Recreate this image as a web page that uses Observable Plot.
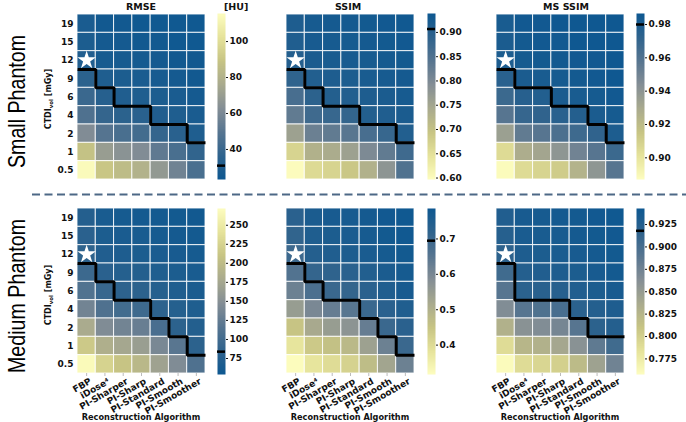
<!DOCTYPE html>
<html><head><meta charset="utf-8">
<script src="https://cdn.jsdelivr.net/npm/d3@7"></script>
<script src="https://cdn.jsdelivr.net/npm/@observablehq/plot@0.6"></script>
<style>
body{margin:0;background:#fff;}
#fig{position:relative;width:686px;height:422px;overflow:hidden;}
#fig > svg{position:absolute;}
</style></head><body><div id="fig"></div>
<script>
// ---------- data ----------
const algorithms = ["FBP", "iDose\u2074", "PI-Sharper", "PI-Sharp", "PI-Standard", "PI-Smooth", "PI-Smoother"];
const doses = ["19", "15", "12", "9", "6", "4", "2", "1", "0.5"];
const refAlgorithm = "FBP";
const refDose = "12";

// rows: doses (top to bottom), columns: algorithms
const smallRMSE = [
  [28, 25, 25, 24, 24, 24, 24],
  [29, 26, 26, 25, 25, 24, 24],
  [31, 27, 27, 26, 26, 25, 25],
  [35, 30, 29, 28, 27, 26, 25],
  [40, 33, 30.5, 30, 29, 28, 26],
  [47, 38, 35, 34, 31, 30, 28],
  [62, 49, 45, 43, 38, 34, 30],
  [88, 70, 65, 62, 52, 45, 37],
  [114, 90, 85, 80, 68, 57, 45]
];
const smallSSIM = [
  [0.915, 0.926, 0.928, 0.929, 0.931, 0.933, 0.935],
  [0.912, 0.924, 0.926, 0.927, 0.929, 0.931, 0.933],
  [0.907, 0.920, 0.922, 0.924, 0.926, 0.929, 0.931],
  [0.890, 0.910, 0.915, 0.918, 0.922, 0.925, 0.928],
  [0.860, 0.895, 0.908, 0.910, 0.915, 0.920, 0.925],
  [0.830, 0.870, 0.880, 0.885, 0.908, 0.912, 0.920],
  [0.760, 0.820, 0.830, 0.840, 0.860, 0.880, 0.910],
  [0.670, 0.730, 0.740, 0.760, 0.800, 0.830, 0.870],
  [0.600, 0.660, 0.670, 0.690, 0.730, 0.780, 0.850]
];
const smallMSSSIM = [
  [0.982, 0.985, 0.985, 0.986, 0.986, 0.986, 0.986],
  [0.981, 0.984, 0.985, 0.985, 0.986, 0.986, 0.986],
  [0.980, 0.983, 0.984, 0.984, 0.985, 0.985, 0.986],
  [0.975, 0.981, 0.982, 0.983, 0.984, 0.985, 0.986],
  [0.968, 0.976, 0.978, 0.981, 0.982, 0.983, 0.985],
  [0.958, 0.970, 0.972, 0.975, 0.977, 0.981, 0.983],
  [0.935, 0.955, 0.958, 0.962, 0.967, 0.972, 0.980],
  [0.905, 0.928, 0.932, 0.940, 0.950, 0.958, 0.968],
  [0.888, 0.905, 0.908, 0.912, 0.925, 0.940, 0.958]
];
const mediumRMSE = [
  [75, 64, 62, 61, 60, 59, 58],
  [80, 67, 65, 64, 62, 61, 60],
  [84, 72, 69, 67, 65, 63, 62],
  [95, 80, 76, 74, 70, 67, 64],
  [112, 92, 83, 82, 76, 71, 66],
  [135, 110, 100, 97, 83, 76, 70],
  [180, 145, 135, 128, 105, 82, 74],
  [215, 185, 175, 165, 140, 118, 82],
  [268, 225, 210, 195, 170, 145, 110]
];
const mediumSSIM = [
  [0.730, 0.760, 0.765, 0.768, 0.772, 0.778, 0.782],
  [0.715, 0.752, 0.758, 0.762, 0.768, 0.775, 0.780],
  [0.695, 0.742, 0.750, 0.755, 0.762, 0.770, 0.776],
  [0.660, 0.710, 0.720, 0.730, 0.745, 0.760, 0.770],
  [0.620, 0.670, 0.700, 0.710, 0.730, 0.750, 0.765],
  [0.550, 0.600, 0.630, 0.650, 0.700, 0.730, 0.750],
  [0.450, 0.520, 0.550, 0.570, 0.630, 0.700, 0.730],
  [0.380, 0.440, 0.460, 0.480, 0.540, 0.620, 0.700],
  [0.320, 0.380, 0.400, 0.420, 0.470, 0.530, 0.620]
];
const mediumMSSSIM = [
  [0.928, 0.935, 0.936, 0.937, 0.938, 0.940, 0.941],
  [0.924, 0.933, 0.934, 0.935, 0.937, 0.939, 0.940],
  [0.918, 0.930, 0.932, 0.933, 0.935, 0.937, 0.939],
  [0.905, 0.925, 0.928, 0.930, 0.932, 0.935, 0.938],
  [0.890, 0.920, 0.921, 0.923, 0.928, 0.932, 0.935],
  [0.865, 0.890, 0.895, 0.900, 0.920, 0.925, 0.930],
  [0.830, 0.860, 0.865, 0.872, 0.890, 0.919, 0.925],
  [0.790, 0.825, 0.830, 0.840, 0.860, 0.885, 0.905],
  [0.760, 0.790, 0.795, 0.800, 0.820, 0.845, 0.875]
];

// lowest dose per algorithm still at least as good as the reference (black step line)
const smallRMSEMinDose    = ["12", "9", "6", "6", "4", "4", "2"];
const smallSSIMMinDose    = ["12", "9", "6", "6", "4", "4", "2"];
const smallMSSSIMMinDose  = ["12", "9", "9", "6", "6", "4", "2"];
const mediumRMSEMinDose   = ["12", "9", "6", "6", "4", "2", "1"];
const mediumSSIMMinDose   = ["12", "9", "6", "6", "4", "2", "1"];
const mediumMSSSIMMinDose = ["12", "6", "6", "6", "4", "2", "2"];

// reference value (black mark on colour bar)
const refValues = {smallRMSE: 31, smallSSIM: 0.907, smallMSSSIM: 0.980, mediumRMSE: 84, mediumSSIM: 0.695, mediumMSSSIM: 0.918};

// colour bar ranges and ticks
const smallRMSERange = [23.3, 115.6],   smallRMSETicks = [40, 60, 80, 100];
const smallSSIMRange = [0.597, 0.939],  smallSSIMTicks = [0.60, 0.65, 0.70, 0.75, 0.80, 0.85, 0.90];
const smallMSSSIMRange = [0.887, 0.9866], smallMSSSIMTicks = [0.90, 0.92, 0.94, 0.96, 0.98];
const mediumRMSERange = [54, 272],      mediumRMSETicks = [75, 100, 125, 150, 175, 200, 225, 250];
const mediumSSIMRange = [0.317, 0.786], mediumSSIMTicks = [0.4, 0.5, 0.6, 0.7];
const mediumMSSSIMRange = [0.7576, 0.9429], mediumMSSSIMTicks = [0.775, 0.800, 0.825, 0.850, 0.875, 0.900, 0.925];

const metricTitles = ["RMSE", "SSIM", "MS SSIM"];
const phantomLabels = ["Small Phantom", "Medium Phantom"];

// ---------- styling ----------
const cmap = d3.piecewise(d3.interpolateRgb, ["#0e5891", "#2f638d", "#577590", "#848e95", "#a9aa8e", "#c7c484", "#e6e39b", "#fdfdbf"]);
const FONT = "DejaVu Sans";
const HX = [77, 286, 496], HY = [14, 208], HW = 128, HH = 165;
const CX = [217, 427, 636], CY = [13, 207.5], CW = 8, CH = 166;

const panels = [
  {r: 0, c: 0, values: smallRMSE, minDose: smallRMSEMinDose, ref: refValues.smallRMSE, range: smallRMSERange, ticks: smallRMSETicks, fmt: d3.format("d"), higherBetter: false},
  {r: 0, c: 1, values: smallSSIM, minDose: smallSSIMMinDose, ref: refValues.smallSSIM, range: smallSSIMRange, ticks: smallSSIMTicks, fmt: d3.format(".2f"), higherBetter: true},
  {r: 0, c: 2, values: smallMSSSIM, minDose: smallMSSSIMMinDose, ref: refValues.smallMSSSIM, range: smallMSSSIMRange, ticks: smallMSSSIMTicks, fmt: d3.format(".2f"), higherBetter: true},
  {r: 1, c: 0, values: mediumRMSE, minDose: mediumRMSEMinDose, ref: refValues.mediumRMSE, range: mediumRMSERange, ticks: mediumRMSETicks, fmt: d3.format("d"), higherBetter: false},
  {r: 1, c: 1, values: mediumSSIM, minDose: mediumSSIMMinDose, ref: refValues.mediumSSIM, range: mediumSSIMRange, ticks: mediumSSIMTicks, fmt: d3.format(".1f"), higherBetter: true},
  {r: 1, c: 2, values: mediumMSSSIM, minDose: mediumMSSSIMMinDose, ref: refValues.mediumMSSSIM, range: mediumMSSSIMRange, ticks: mediumMSSSIMTicks, fmt: d3.format(".3f"), higherBetter: true}
];

const fig = document.getElementById("fig");
function place(svg, left, top) {
  svg.style.position = "absolute";
  svg.style.left = left + "px";
  svg.style.top = top + "px";
  svg.style.maxWidth = "none";
  svg.style.background = "transparent";
  fig.appendChild(svg);
}
const baseStyle = {fontFamily: FONT, fontSize: "9px", fontWeight: "bold", color: "#111", background: "transparent", overflow: "visible"};

function heatmap(p) {
  const nR = doses.length, nC = algorithms.length;
  const cells = p.values.flatMap((row, i) => row.map((v, j) => ({i, j, v})));
  const step = [];
  p.minDose.forEach((d, j) => {
    const k = doses.indexOf(d) + 1;
    step.push({x: j, y: k}, {x: j + 1, y: k});
  });
  const star = [{i: doses.indexOf(refDose), j: algorithms.indexOf(refAlgorithm)}];
  const ML = 35, MT = 2, MR = 2, MB = p.r === 1 ? 50 : 2;
  const colTicks = d3.range(nC).map(j => j + 0.5);
  const marks = [
    Plot.rect(cells, {x1: "j", x2: d => d.j + 1, y1: "i", y2: d => d.i + 1, fill: "v", stroke: "white", strokeWidth: 1, strokeOpacity: 0.85}),
    Plot.line(step, {x: "x", y: "y", stroke: "black", strokeWidth: 3, strokeLinecap: "butt", strokeLinejoin: "miter"}),
    Plot.dot(star, {x: d => d.j + 0.5, y: d => d.i + 0.5, symbol: "star", fill: "white", stroke: "none", r: 5.8})
  ];
  if (p.c === 0) marks.push(Plot.axisY({ticks: d3.range(nR).map(i => i + 0.5), tickFormat: t => doses[Math.floor(t)], tickSize: 0, tickPadding: 4, label: null, fontSize: 9}));
  if (p.r === 1) {
    marks.push(Plot.axisX({ticks: colTicks, tickSize: 3, tickFormat: () => "", label: null, stroke: "#bbb"}));
    marks.push(Plot.axisX({ticks: colTicks, tickFormat: t => algorithms[Math.floor(t)], tickSize: 0, tickPadding: 5, tickRotate: -30, label: null, fill: "#111", fontSize: 9, dx: 4, dy: 2}));
  }
  const svg = Plot.plot({
    width: ML + HW + MR, height: MT + HH + MB,
    marginLeft: ML, marginTop: MT, marginRight: MR, marginBottom: MB,
    x: {domain: [0, nC], axis: null},
    y: {domain: [0, nR], reverse: true, axis: null},
    color: {type: "linear", domain: p.range, interpolate: cmap, reverse: p.higherBetter},
    style: baseStyle,
    marks
  });
  place(svg, HX[p.c] - ML, HY[p.r] - MT);
}

function colorbar(p) {
  const MT = 4, MB = 4, MR = 40;
  const marks = [];
  if (Plot.raster) {
    marks.push(Plot.raster({x1: 0, x2: 1, y1: p.range[0], y2: p.range[1], width: 1, height: 256, fill: (x, y) => y}));
  } else {
    const n = 200;
    const slices = d3.range(n).map(k => p.range[0] + (p.range[1] - p.range[0]) * k / n);
    marks.push(Plot.rect(slices, {x1: 0, x2: 1, y1: d => d, y2: d => d + (p.range[1] - p.range[0]) / n, fill: d => d}));
  }
  marks.push(Plot.ruleY([p.ref], {stroke: "black", strokeWidth: 2.5}));
  marks.push(Plot.axisY({anchor: "right", ticks: p.ticks, tickFormat: p.fmt, tickSize: 2, tickPadding: 2, label: null, fontSize: 9}));
  const svg = Plot.plot({
    width: CW + MR, height: MT + CH + MB,
    marginLeft: 0, marginTop: MT, marginRight: MR, marginBottom: MB,
    x: {domain: [0, 1], axis: null},
    y: {domain: p.range, axis: null},
    color: {type: "linear", domain: p.range, interpolate: cmap, reverse: p.higherBetter},
    style: baseStyle,
    marks
  });
  place(svg, CX[p.c], CY[p.r] - MT);
}

panels.forEach(p => { heatmap(p); colorbar(p); });

// ---------- overlay texts and separator ----------
const ov = d3.select(fig).append("svg")
  .attr("width", 686).attr("height", 422)
  .style("position", "absolute").style("left", "0px").style("top", "0px")
  .style("pointer-events", "none");

ov.append("line").attr("x1", 32).attr("x2", 686).attr("y1", 194.5).attr("y2", 194.5)
  .attr("stroke", "#4d6886").attr("stroke-width", 2).attr("stroke-dasharray", "8,4.5");

const titleX = [141, 348, 566];
metricTitles.forEach((t, c) => {
  ov.append("text").attr("x", titleX[c]).attr("y", 9.5).attr("text-anchor", "middle")
    .attr("font-family", FONT).attr("font-weight", "bold").attr("font-size", 9.5).attr("fill", "#111").text(t);
});
ov.append("text").attr("x", 224).attr("y", 9.5).attr("font-family", FONT).attr("font-weight", "bold")
  .attr("font-size", 9.5).attr("fill", "#111").text("[HU]");

const phantomY = [101.5, 296], phantomLen = [133, 154];
phantomLabels.forEach((t, r) => {
  ov.append("text").attr("transform", `translate(25,${phantomY[r]}) rotate(-90)`)
    .attr("text-anchor", "middle").attr("font-family", "Liberation Sans").attr("font-size", 24)
    .attr("textLength", phantomLen[r]).attr("lengthAdjust", "spacingAndGlyphs")
    .attr("fill", "#000").text(t);
});

const ctdiY = [99, 295];
ctdiY.forEach(y => {
  const t = ov.append("text").attr("transform", `translate(51,${y}) rotate(-90)`)
    .attr("text-anchor", "middle").attr("font-family", FONT).attr("font-weight", "bold")
    .attr("font-size", 8).attr("fill", "#111");
  t.append("tspan").text("CTDI");
  t.append("tspan").attr("font-size", 5.5).attr("dy", 2).text("vol");
  t.append("tspan").attr("dy", -2).text(" [mGy]");
});

HX.forEach(x => {
  ov.append("text").attr("x", x + HW / 2).attr("y", 420).attr("text-anchor", "middle")
    .attr("font-family", FONT).attr("font-weight", "bold").attr("font-size", 8.2).attr("fill", "#111")
    .text("Reconstruction Algorithm");
});
</script></body></html>
